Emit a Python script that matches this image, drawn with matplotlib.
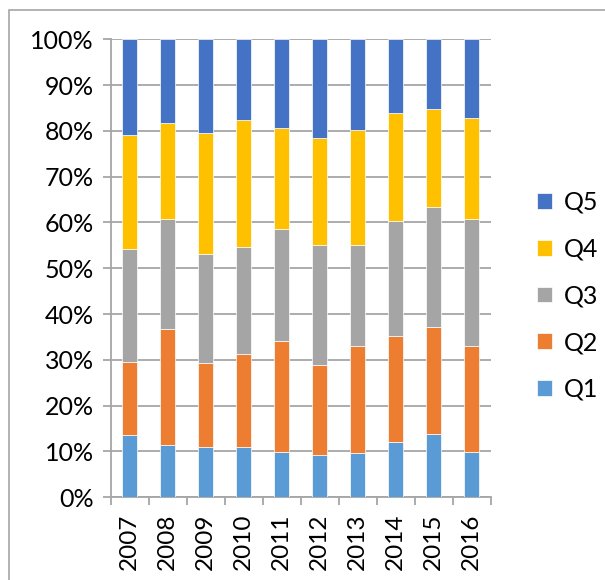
import numpy as np
import matplotlib
matplotlib.use("Agg")
import matplotlib.pyplot as plt
from matplotlib.patches import Rectangle
from matplotlib.ticker import FixedLocator, PercentFormatter

plt.rcParams['font.family'] = ['Lato', 'DejaVu Sans']

years = ['2007', '2008', '2009', '2010', '2011', '2012', '2013', '2014', '2015', '2016']

# share of each quintile (percent)
q1 = [13.5, 11.3, 10.9, 11.0, 9.8, 9.3, 9.7, 12.0, 13.7, 9.9]
q2 = [16.1, 25.5, 18.5, 20.2, 24.4, 19.5, 23.4, 23.3, 23.5, 23.2]
q3 = [24.7, 24.0, 23.8, 23.5, 24.4, 26.3, 22.0, 25.1, 26.2, 27.7]
q4 = [24.9, 21.0, 26.3, 27.7, 22.1, 23.4, 25.2, 23.5, 21.4, 22.0]
q5 = [20.8, 18.2, 20.5, 17.6, 19.3, 21.5, 19.7, 16.1, 15.2, 17.2]

series = [('Q1', q1, '#5B9BD5'), ('Q2', q2, '#ED7D31'), ('Q3', q3, '#A5A5A5'),
          ('Q4', q4, '#FFC000'), ('Q5', q5, '#4472C4')]

fig = plt.figure(figsize=(6.05, 5.8), dpi=100)
ax = fig.add_axes([0.183, 0.143, 0.628, 0.789])

# chart area border
fig.patches.append(Rectangle((9 / 605, -0.1), 1.0, 1.0 - 10 / 580 + 0.1,
                             transform=fig.transFigure, fill=False,
                             edgecolor='#a6a6a6', linewidth=1.2))

x = np.arange(len(years))
bottom = np.zeros(len(years))
handles = []
for name, vals, col in series:
    vals = np.array(vals)
    b = ax.bar(x, vals, 0.4, bottom=bottom, color=col, label=name,
               edgecolor='#ffffff', linewidth=0.5, zorder=3)
    handles.append(b)
    bottom = bottom + vals

ax.set_xlim(-0.5, len(years) - 0.5)
ax.set_ylim(0, 100)
ax.set_yticks(np.arange(0, 101, 10))
ax.yaxis.set_major_formatter(PercentFormatter(decimals=0))
ax.grid(axis='y', color='#a6a6a6', linewidth=1.3, zorder=0)

ax.set_xticks(x)
ax.set_xticklabels(years, rotation=90)
ax.xaxis.set_minor_locator(FixedLocator(np.arange(-0.5, len(years), 1.0)))
ax.tick_params(axis='x', which='major', length=0, pad=12, labelsize=17.5)
ax.tick_params(axis='x', which='minor', length=6, color='#a6a6a6', width=1.3)
ax.tick_params(axis='y', length=6, color='#a6a6a6', width=1.3, pad=6, labelsize=18)

for s in ['top', 'right']:
    ax.spines[s].set_visible(False)
for s in ['left', 'bottom']:
    ax.spines[s].set_color('#a6a6a6')
    ax.spines[s].set_linewidth(1.3)

fig.legend(handles[::-1], [h.get_label() for h in handles[::-1]],
           loc='center left', bbox_to_anchor=(0.85, 0.49), frameon=False,
           fontsize=18, handlelength=0.6, handleheight=0.6, handletextpad=0.5,
           labelspacing=0.95)

plt.savefig('out.png', dpi=100)
